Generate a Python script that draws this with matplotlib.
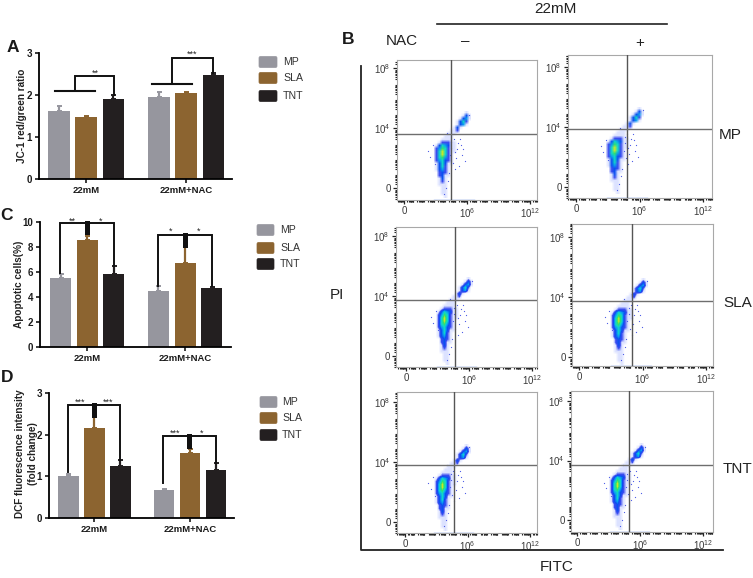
import numpy as np
import matplotlib
matplotlib.use('Agg')
import matplotlib.pyplot as plt
from matplotlib.colors import LinearSegmentedColormap
from matplotlib.patches import FancyBboxPatch

W, H = 753, 578
plt.rcParams['font.family'] = ['Liberation Sans', 'DejaVu Sans']
plt.rcParams['mathtext.default'] = 'regular'

groups = ['22mM', '22mM+NAC']
samples = ['MP', 'SLA', 'TNT']
colors = ['#96969e', '#8c6430', '#231f20']

# bar heights and top of the error bars
jc1 = [1.62, 1.47, 1.90, 1.95, 2.04, 2.48]
jc1_top = [1.75, 1.50, 2.00, 2.06, 2.07, 2.52]
apoptotic = [5.55, 8.60, 5.85, 4.50, 6.70, 4.75]
apoptotic_top = [5.85, 8.90, 6.50, 4.85, 8.00, 4.80]
dcf = [1.02, 2.15, 1.25, 0.67, 1.55, 1.15]
dcf_top = [1.05, 2.42, 1.40, 0.69, 1.66, 1.33]

# flow panels, in decades from the axis ticks: MP-, MP+, SLA-, SLA+, TNT-, TNT+
gate_x = [4.48, 4.82, 4.67, 5.00, 4.70, 4.95]
gate_y = [3.60, 3.87, 3.73, 3.73, 3.80, 3.70]
cloud_x = [3.62, 3.69, 3.71, 3.78, 3.55, 3.90]
cloud_y = [2.40, 2.60, 2.53, 2.60, 2.53, 2.42]

# density of the cell cloud, estimated by eye (0 empty .. 7 densest), same shape in every panel
density = [
    "0000000000010",
    "0000000000131",
    "0000000001341",
    "0000000013520",
    "0000000013410",
    "0000000131000",
    "0000001120000",
    "0000011100000",
    "0000111000000",
    "0001111000000",
    "0012221100000",
    "0135431100000",
    "0246521100000",
    "0257521100000",
    "0257521000000",
    "0256421000000",
    "0245321000000",
    "0135311000000",
    "0135210000000",
    "0134210000000",
    "0023210000000",
    "0023110000000",
    "0013100000000",
    "0012100000000",
    "0011100000000",
    "0001100000000",
    "0001100000000",
    "0001100000000",
    "0000100000000",
]
stray_x = [-1.3, -1.1, 1.3, 1.6, 1.9, 2.2, 0.9, 1.2, 1.5, 0.7, 1.1, -0.9, 0.4, 0.2, 1.7, 2.6,
           0.8, 1.0, 1.4, 1.8, 0.6, 0.9, 1.2, -0.7, 0.5, 2.0]
stray_y = [0.1, -0.3, -0.4, -0.9, -0.2, -0.6, 0.3, -1.1, 0.6, -1.4, 0.9, 0.5, -2.4, -2.8, 0.9, 2.5,
           -0.2, -0.7, 0.2, 0.5, -1.9, 0.7, 0.0, -0.8, 1.3, 0.2]

fig = plt.figure(figsize=(W / 100, H / 100), dpi=100)

# overlay in pixel coordinates for labels, legends and frame lines
bg = fig.add_axes([0, 0, 1, 1], zorder=5)
bg.set_xlim(0, W)
bg.set_ylim(H, 0)
bg.axis('off')


def px_axes(left, right, top, bottom):
    return fig.add_axes([left / W, 1 - bottom / H, (right - left) / W, (bottom - top) / H])


def bar_panel(rect, xlim, values, tops, ymax, yticks):
    ax = px_axes(*rect)
    pos = [1, 2, 3, 4.67, 5.67, 6.67]
    cols = colors * 2
    ax.bar(pos, values, width=0.79, color=cols, zorder=2)
    for p, v, t, c in zip(pos, values, tops, cols):
        ax.errorbar(p, v, yerr=[[0], [t - v]], color=c, lw=1.6, capsize=1.8, capthick=1.4, zorder=1)
    ax.set_xlim(*xlim)
    ax.set_ylim(0, ymax)
    ax.set_yticks(yticks)
    ax.set_xticks([2, 5.67])
    ax.set_xticklabels(groups, fontsize=6.8, fontweight='bold')
    for lab in ax.get_yticklabels():
        lab.set_fontsize(7)
        lab.set_fontweight('bold')
    ax.tick_params(length=3, width=1.2, pad=2, colors='#1a1a1a')
    ax.spines[['top', 'right']].set_visible(False)
    ax.spines[['left', 'bottom']].set_linewidth(1.3)
    ax.patch.set_alpha(0)
    return ax


def bracket(ax, xs, ys, lw=1.4):
    ax.plot(xs, ys, color='#111111', lw=lw, clip_on=False, zorder=3, solid_joinstyle='miter')


def stars(ax, x, y, s):
    ax.text(x, y, s, ha='center', va='center', fontsize=6.5, clip_on=False, color='#222222')


def legend(x0, x1, ys, xt):
    for y, c, name in zip(ys, colors, samples):
        bg.add_patch(FancyBboxPatch((x0 + 1.5, y - 4), x1 - x0 - 3, 8, boxstyle='round,pad=1.5',
                                    fc=c, ec=c, lw=0.5))
        bg.text(xt, y, name, fontsize=7.6, va='center', color='#333333')


# A
ax = bar_panel((39, 232, 53, 179), (0.27, 7.35), jc1, jc1_top, 3, [0, 1, 2, 3])
bracket(ax, [0.85, 2.32], [2.10, 2.10], 1.5)
bracket(ax, [1.59, 1.59, 3.02, 3.02], [2.10, 2.45, 2.45, 2.0])
bracket(ax, [4.41, 5.88], [2.27, 2.27], 1.5)
bracket(ax, [5.15, 5.15, 6.65, 6.65], [2.27, 2.89, 2.89, 2.52])
stars(ax, 2.32, 2.53, '**')
stars(ax, 5.88, 2.98, '***')
legend(259, 277, [62, 78, 96], 283)

# C
ax = bar_panel((40, 231, 222, 347), (0.23, 7.39), apoptotic, apoptotic_top, 10, [0, 2, 4, 6, 8, 10])
bracket(ax, [0.98, 0.98, 3.0, 3.0], [5.9, 9.9, 9.9, 6.5])
bracket(ax, [1.99, 1.99], [9.9, 9.2], 3.6)
bracket(ax, [4.64, 4.64, 6.69, 6.69], [4.9, 9.0, 9.0, 4.9])
bracket(ax, [5.66, 5.66], [9.0, 8.2], 3.6)
stars(ax, 1.46, 10.1, '**')
stars(ax, 2.49, 10.1, '*')
stars(ax, 5.11, 9.25, '*')
stars(ax, 6.18, 9.25, '*')
legend(257, 274, [230, 248, 264], 280)

# D
ax = bar_panel((49, 234, 393, 518), (0.25, 7.37), dcf, dcf_top, 3, [0, 1, 2, 3])
bracket(ax, [0.98, 0.98, 3.0, 3.0], [1.10, 2.72, 2.72, 1.40])
bracket(ax, [1.99, 1.99], [2.72, 2.48], 3.6)
bracket(ax, [4.65, 4.65, 6.69, 6.69], [0.84, 1.97, 1.97, 1.33])
bracket(ax, [5.63, 5.63], [1.97, 1.72], 3.6)
stars(ax, 1.44, 2.79, '***')
stars(ax, 2.51, 2.79, '***')
stars(ax, 5.12, 2.03, '***')
stars(ax, 6.13, 2.03, '*')
legend(260, 277, [402, 418, 435], 282)

# flow cytometry grid
flow_rects = [(397, 537, 60, 200), (568, 712, 55, 198),
              (396, 537, 227, 367), (572, 713, 224, 366),
              (397, 537, 392, 533), (571, 713, 391, 532)]
# pixel position of x ticks 0 and 10^12, y ticks 0 and 10^8
flow_ticks = [(404, 530, 188, 68), (576, 703, 187, 67),
              (406, 532, 356, 236), (579, 706, 357, 237),
              (405, 530, 522, 402), (577, 703, 520, 401)]

cmap = LinearSegmentedColormap.from_list('flow', ['#ffffff', '#dce2ff', '#3a4cf0', '#0a50f0',
                                                  '#0a9cf0', '#10d8c8', '#30e070', '#c8e828'])
grid = np.array([[int(c) for c in row] for row in density])
sub = np.log10(np.arange(2, 10)) * 0.9

for i, rect in enumerate(flow_rects):
    left, right, top, bottom = rect
    x0, x12, y0, y8 = flow_ticks[i]
    sx = (x12 - x0) / 12
    sy = (y0 - y8) / 8
    ax = px_axes(*rect)
    ax.imshow(grid, cmap=cmap, vmin=0, vmax=7, aspect='auto', interpolation='bilinear', zorder=1,
              extent=(cloud_x[i] - 1.0, cloud_x[i] + 2.71, cloud_y[i] - 3.1, cloud_y[i] + 2.7))
    ax.scatter(np.array(stray_x) + cloud_x[i], np.array(stray_y) + cloud_y[i], s=0.8, c='#4a5ae8',
               lw=0, zorder=2)
    ax.set_xlim((left - x0) / sx, (right - x0) / sx)
    ax.set_ylim((y0 - bottom) / sy, (y0 - top) / sy)
    # few events stacked on the lower edge
    ybot = ax.get_ylim()[0]
    ax.plot([cloud_x[i] - 0.8, cloud_x[i] + 3], [ybot + 0.03, ybot + 0.03], color='#5a86e8', lw=1, zorder=2)
    ax.axvline(gate_x[i], color='#555555', lw=1, zorder=3)
    ax.axhline(gate_y[i], color='#6e6e6e', lw=1, zorder=3)
    for s in ax.spines.values():
        s.set_color('#a8a8a8')
        s.set_linewidth(0.8)
    ax.set_xticks([0, 6, 12])
    ax.set_xticklabels(['0', r'$10^{6}$', r'$10^{12}$'])
    ax.set_yticks([0, 4, 8])
    ax.set_yticklabels(['0', r'$10^{4}$', r'$10^{8}$'])
    ax.set_xticks([d + s for d in range(-1, 13) for s in sub if (left - x0) / sx < d + s < (right - x0) / sx], minor=True)
    ax.set_yticks([d + s for d in range(-1, 9) for s in sub if (y0 - bottom) / sy < d + s < (y0 - top) / sy], minor=True)
    ax.tick_params(which='major', length=3, width=0.9, labelsize=7, pad=1.5, labelcolor='#3a3a3a', color='#222222')
    ax.tick_params(which='minor', length=1.5, width=0.8, color='#222222')

# panel letters
for letter, x, y in [('A', 13, 47), ('B', 348, 40), ('C', 7, 216), ('D', 7, 378)]:
    bg.text(x, y, letter, fontsize=12.5, fontweight='bold', ha='center', va='center', color='#1a1a1a')

# axis titles of the bar panels
bg.text(22, 116, 'JC-1 red/green ratio', rotation=90, fontsize=7.2, fontweight='bold', ha='center', va='center', color='#222222')
bg.text(19, 284, 'Apoptotic cells(%)', rotation=90, fontsize=7.2, fontweight='bold', ha='center', va='center', color='#222222')
bg.text(20, 454, 'DCF fluorescence intensity', rotation=90, fontsize=7.2, fontweight='bold', ha='center', va='center', color='#222222')
bg.text(33, 454, '(fold change)', rotation=90, fontsize=7.2, fontweight='bold', ha='center', va='center', color='#222222')

# flow panel frame and labels
bg.plot([361, 361, 723], [66, 550, 550], color='#222222', lw=1.3)
bg.plot([437, 667], [24, 24], color='#222222', lw=1.2)
label = dict(fontsize=11, va='center', color='#222222')
bg.text(555, 9, '22mM', ha='center', **label)
bg.text(386, 41, 'NAC', ha='left', **label)
bg.text(465, 41, '\u2013', ha='center', **label)
bg.text(640, 43, '+', ha='center', **label)
bg.text(719, 135, 'MP', ha='left', **label)
bg.text(723, 303, 'SLA', ha='left', **label)
bg.text(723, 469, 'TNT', ha='left', **label)
bg.text(337, 295, 'PI', ha='center', **label)
bg.text(557, 567, 'FITC', ha='center', **label)

fig.savefig('out.png', dpi=100)
